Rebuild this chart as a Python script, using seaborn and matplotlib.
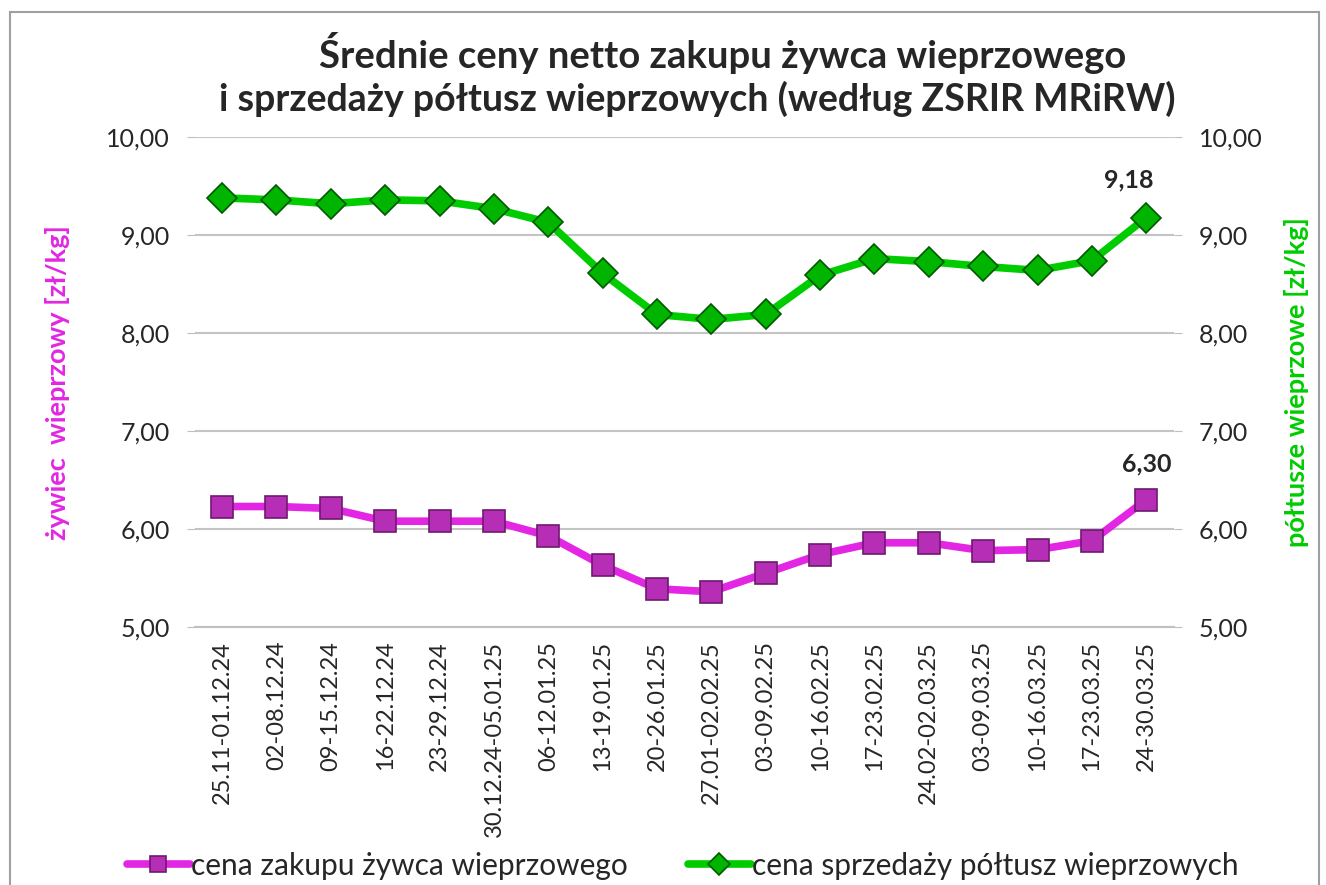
import seaborn as sns
import matplotlib.pyplot as plt
import pandas as pd
from matplotlib.patches import Rectangle
from matplotlib.ticker import FuncFormatter

weeks = ['25.11-01.12.24', '02-08.12.24', '09-15.12.24', '16-22.12.24', '23-29.12.24',
         '30.12.24-05.01.25', '06-12.01.25', '13-19.01.25', '20-26.01.25', '27.01-02.02.25',
         '03-09.02.25', '10-16.02.25', '17-23.02.25', '24.02-02.03.25', '03-09.03.25',
         '10-16.03.25', '17-23.03.25', '24-30.03.25']
zywiec = [6.23, 6.23, 6.21, 6.08, 6.08, 6.08, 5.93, 5.63, 5.39, 5.36,
          5.55, 5.74, 5.86, 5.86, 5.78, 5.79, 5.88, 6.30]
poltusze = [9.38, 9.36, 9.32, 9.36, 9.35, 9.27, 9.13, 8.61, 8.19, 8.14,
            8.19, 8.59, 8.76, 8.73, 8.68, 8.64, 8.74, 9.18]

df = pd.DataFrame({'idx': range(len(weeks)), 'week': weeks,
                   'zywiec': zywiec, 'poltusze': poltusze})

sns.set_style('white')
plt.rcParams['font.family'] = ['Lato', 'DejaVu Sans']

MAG = '#E326E3'
GRN = '#00CC00'

fig = plt.figure(figsize=(13.26, 8.85), dpi=100)
ax = fig.add_axes([0.147, 0.2915, 0.738, 0.5535])
ax2 = ax.twinx()

sns.lineplot(data=df, x='idx', y='zywiec', ax=ax, color=MAG, lw=5.5,
             marker='s', markersize=16, markerfacecolor='#B62DB6',
             markeredgecolor='#6E1A6E', markeredgewidth=1.2,
             label='cena zakupu żywca wieprzowego', legend=False)
sns.lineplot(data=df, x='idx', y='poltusze', ax=ax2, color=GRN, lw=5.5,
             marker='D', markersize=15, markerfacecolor='#00B400',
             markeredgecolor='#005A00', markeredgewidth=1.2,
             label='cena sprzedaży półtusz wieprzowych', legend=False)

fmt = FuncFormatter(lambda v, p: f'{v:.2f}'.replace('.', ','))
for a in (ax, ax2):
    a.set_ylim(5, 10)
    a.set_xlim(-0.5, len(weeks) - 0.5)
    a.set_yticks([5, 6, 7, 8, 9, 10])
    a.yaxis.set_major_formatter(fmt)
    a.tick_params(axis='y', labelsize=18, length=6, color='#BFBFBF', pad=12)
    for s in a.spines.values():
        s.set_visible(False)
ax.spines['bottom'].set_visible(True)
ax.spines['bottom'].set_color('#BFBFBF')
ax.spines['bottom'].set_linewidth(1.5)
ax.grid(axis='y', color='#C4C4C4', lw=1.5)
ax.set_axisbelow(True)

ax.set_xticks(df['idx'])
ax.set_xticklabels(weeks, rotation=90, fontsize=17)
ax.tick_params(axis='x', length=0, pad=10)
ax.set_xlabel('')
ax.set_ylabel('żywiec  wieprzowy [zł/kg]', color=MAG, fontsize=19.5,
              fontweight='bold', labelpad=26)
ax2.set_ylabel('półtusze wieprzowe [zł/kg]', color=GRN, fontsize=19.5,
               fontweight='bold', labelpad=16)

last = len(weeks) - 1
ax.annotate(f'{zywiec[-1]:.2f}'.replace('.', ','), (last, zywiec[-1]),
            xytext=(0, 20), textcoords='offset points', ha='center',
            fontsize=18, fontweight='bold')
ax2.annotate(f'{poltusze[-1]:.2f}'.replace('.', ','), (last, poltusze[-1]),
             xytext=(-13, 22), textcoords='offset points', ha='center',
             fontsize=18, fontweight='bold')

fig.text(0.545, 0.94, 'Średnie ceny netto zakupu żywca wieprzowego',
         ha='center', va='center', fontsize=27.5, fontweight='bold')
fig.text(0.526, 0.888, 'i sprzedaży półtusz wieprzowych (według ZSRIR MRiRW)',
         ha='center', va='center', fontsize=27, fontweight='bold')

h1, l1 = ax.get_legend_handles_labels()
h2, l2 = ax2.get_legend_handles_labels()
fig.legend(h1 + h2, l1 + l2, loc='center', bbox_to_anchor=(0.515, 0.022),
           ncol=2, frameon=False, fontsize=21.5, handlelength=2.1,
           columnspacing=2.0, handletextpad=0.05, markerscale=0.75)

fig.patches.append(Rectangle((0.0075, -0.05), 0.987, 1.036, transform=fig.transFigure,
                             fill=False, edgecolor='#A0A0A0', lw=1.5))

fig.savefig('out.png', dpi=100)
